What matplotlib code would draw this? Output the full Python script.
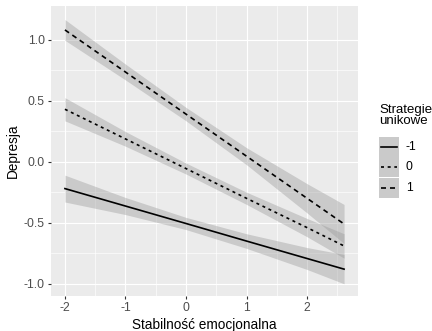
import matplotlib.pyplot as plt
from matplotlib.patches import Rectangle
from matplotlib.lines import Line2D

plt.rcParams['font.family'] = ['Liberation Sans', 'DejaVu Sans']

# predicted Depresja along Stabilność emocjonalna, one line per level of the moderator
x_pts = [-2, -1, 0, 1, 2, 2.61]
levels = ['-1', '0', '1']

fit_m1 = [-0.22, -0.363, -0.506, -0.65, -0.793, -0.88]
low_m1 = [-0.33, -0.433, -0.556, -0.71, -0.883, -1.00]
upp_m1 = [-0.11, -0.293, -0.456, -0.59, -0.703, -0.76]

fit_0 = [0.43, 0.187, -0.056, -0.30, -0.54, -0.69]
low_0 = [0.335, 0.127, -0.101, -0.35, -0.615, -0.79]
upp_0 = [0.525, 0.247, -0.011, -0.25, -0.465, -0.59]

fit_p1 = [1.08, 0.735, 0.39, 0.045, -0.30, -0.51]
low_p1 = [0.995, 0.67, 0.335, -0.025, -0.42, -0.67]
upp_p1 = [1.165, 0.80, 0.445, 0.115, -0.18, -0.35]

fits = [fit_m1, fit_0, fit_p1]
lows = [low_m1, low_0, low_p1]
upps = [upp_m1, upp_0, upp_p1]
dashes = [None, (1.8, 2.2), (3.0, 2.4)]
LW = 1.2

W, H = 432, 331
fig = plt.figure(figsize=(W / 100, H / 100), dpi=100)
ax = fig.add_axes([51 / W, 1 - 296 / H, (358 - 51) / W, (296 - 6) / H])

ax.set_facecolor('#EBEBEB')
for s in ax.spines.values():
    s.set_visible(False)

ax.set_xticks([-2, -1, 0, 1, 2])
ax.set_xticks([-1.5, -0.5, 0.5, 1.5, 2.5], minor=True)
ax.set_yticks([-1.0, -0.5, 0.0, 0.5, 1.0])
ax.set_yticks([-0.75, -0.25, 0.25, 0.75], minor=True)
ax.set_xticklabels(['-2', '-1', '0', '1', '2'])
ax.set_yticklabels(['-1.0', '-0.5', '0.0', '0.5', '1.0'])
ax.grid(which='major', color='white', lw=0.85)
ax.grid(which='minor', color='white', lw=0.45)
ax.set_axisbelow(True)
ax.tick_params(which='major', length=2.5, width=0.8, color='#333333',
               labelcolor='#4D4D4D', labelsize=8.8, pad=2)
ax.tick_params(which='minor', length=0)

for fit, lo, up, d in zip(fits, lows, upps, dashes):
    ax.fill_between(x_pts, lo, up, color='#999999', alpha=0.4, lw=0)
    ln, = ax.plot(x_pts, fit, color='black', lw=LW)
    if d is not None:
        ln.set_dashes(d)

ax.set_xlim(-2.23, 2.84)
ax.set_ylim(-1.10, 1.276)
ax.set_xlabel('Stabilność emocjonalna', fontsize=9.8, labelpad=3)
ax.set_ylabel('Depresja', fontsize=9.8, labelpad=3)

# legend drawn by hand in a pixel-scaled overlay
lg = fig.add_axes([0, 0, 1, 1])
lg.set_xlim(0, W)
lg.set_ylim(H, 0)
lg.axis('off')
lg.text(379, 115.5, 'Strategie\nunikowe', fontsize=9.5, va='center', ha='left',
        linespacing=1.0)
for i, (lab, d) in enumerate(zip(levels, dashes)):
    yc = 146.5 + i * 20.7
    lg.add_patch(Rectangle((379, yc - 10), 20, 20, facecolor='#EBEBEB', lw=0))
    lg.add_patch(Rectangle((379, yc - 10), 20, 20, facecolor='#999999',
                           alpha=0.4, lw=0))
    k = Line2D([381, 397], [yc, yc], color='black', lw=LW)
    if d is not None:
        k.set_dashes(d)
    lg.add_line(k)
    lg.text(406, yc, lab, fontsize=8.8, va='center', ha='left', color='black')

fig.savefig('out.png', dpi=100)
